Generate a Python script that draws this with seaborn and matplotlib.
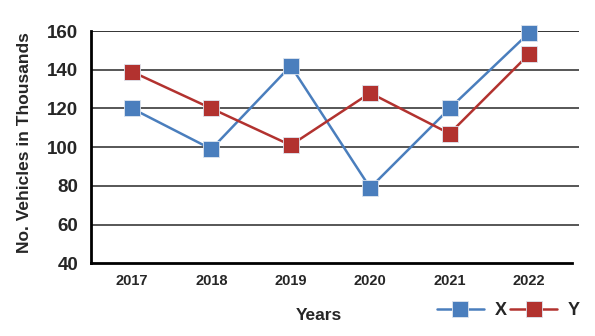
import matplotlib
matplotlib.use("Agg")
import matplotlib.pyplot as plt
import seaborn as sns
import pandas as pd

years = ["2017", "2018", "2019", "2020", "2021", "2022"]
x_values = [120, 99, 142, 79, 120, 159]
y_values = [139, 120, 101, 128, 107, 148]
series_names = ["X", "Y"]
y_ticks = [40, 60, 80, 100, 120, 140, 160]

sns.set_style("white")
plt.rcParams["font.family"] = ["Liberation Sans", "DejaVu Sans"]
plt.rcParams["font.weight"] = "bold"

df = pd.DataFrame({
    "pos": list(range(len(years))) * 2,
    "val": x_values + y_values,
    "series": [series_names[0]] * len(years) + [series_names[1]] * len(years),
})

fig = plt.figure(figsize=(5.95, 3.36), dpi=100)
ax = fig.add_axes([0.1529, 0.2164, 0.9731 - 0.1529, 0.9077 - 0.2164])

palette = {"X": "#4A7EBD", "Y": "#B2322F"}
sns.lineplot(data=df, x="pos", y="val", hue="series", style="series",
             markers={"X": "s", "Y": "s"}, dashes=False, palette=palette,
             linewidth=1.8, markersize=11, markeredgecolor="#dfe6f0",
             markeredgewidth=0.6, ax=ax, zorder=3, clip_on=False)

ax.set_ylim(40, 160)
ax.set_xlim(-0.516, 5.63)
ax.set_yticks(y_ticks)
ax.set_yticklabels([str(v) for v in y_ticks], fontsize=13.5, fontweight="bold")
ax.set_xticks(list(range(len(years))) + [5.54])
ax.set_xticklabels(years + [""], fontsize=10.5, fontweight="bold")

for v in y_ticks[1:]:
    ax.axhline(v, color="#3a3a3a" if v != 160 else "#111111", lw=1.2, zorder=1)

for s in ["top", "right"]:
    ax.spines[s].set_visible(False)
ax.spines["left"].set_linewidth(2)
ax.spines["bottom"].set_linewidth(2)
ax.spines["left"].set_color("black")
ax.spines["bottom"].set_color("black")
ax.spines["bottom"].set_bounds(-0.516, 5.54)
ax.spines["bottom"].set_zorder(4)

ax.tick_params(axis="x", direction="inout", length=8, width=1.6, color="black", pad=4)
ax.tick_params(axis="y", length=0, pad=9)

ax.set_xlabel("Years", fontsize=12.5, fontweight="bold")
ax.set_ylabel("No. Vehicles in Thousands", fontsize=12.5, fontweight="bold")
ax.xaxis.set_label_coords(0.467, -0.192)
ax.yaxis.set_label_coords(-0.121, 0.52)

handles, labels = ax.get_legend_handles_labels()
ax.legend(handles=handles, labels=labels, loc="center", bbox_to_anchor=(0.855, -0.205),
          ncol=2, frameon=False, handlelength=2.6, handletextpad=0.6,
          columnspacing=0.2, prop={"size": 13, "weight": "bold"})

fig.savefig("out.png", dpi=100)
